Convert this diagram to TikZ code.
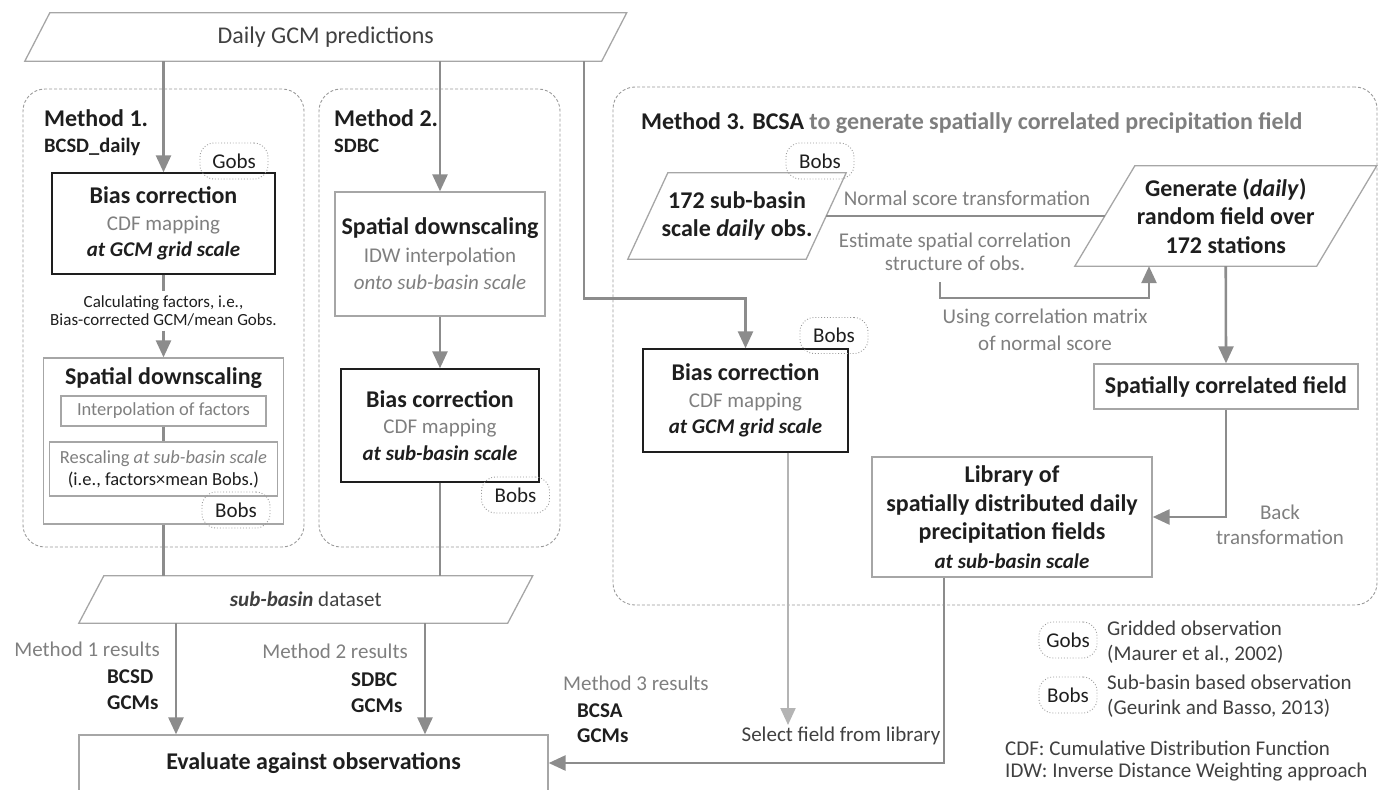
\documentclass[tikz,border=0pt]{standalone}
\usepackage{fontspec}
\setmainfont{Carlito}
\usetikzlibrary{arrows.meta,calc,positioning}

\definecolor{linegray}{HTML}{8C8C8C}
\definecolor{lightline}{HTML}{B4B4B4}
\definecolor{boxgray}{HTML}{A6A6A6}
\definecolor{dashgray}{HTML}{9A9A9A}
\definecolor{txtgray}{HTML}{7F7F7F}
\definecolor{txtmid}{HTML}{404040}
\definecolor{txtdark}{HTML}{1E1E1E}

\newcommand{\fhead}{\fontsize{24}{28.5}\selectfont\bfseries}
\newcommand{\fbody}{\fontsize{21}{26.5}\selectfont}
\newcommand{\fsmall}{\fontsize{18.5}{22}\selectfont}
\newcommand{\ftiny}{\fontsize{17}{18.5}\selectfont}
% outline of a slanted box round node #1, half slant #2
\newcommand{\slantbox}[2]{%
  \draw[draw=boxgray, line width=1.3pt] ($(#1.south west)+(-#2,0)$) -- ($(#1.north west)+(#2,0)$)
    -- ($(#1.north east)+(#2,0)$) -- ($(#1.south east)+(-#2,0)$) -- cycle;}

\begin{document}
\begin{tikzpicture}[x=1pt, y=-1pt, >={Triangle[length=17pt,width=15pt]},
    every node/.append style={text=txtdark},
    conn/.style={draw=linegray, line width=2.6pt},
    lconn/.style={draw=lightline, line width=2.2pt},
    kbox/.style={draw=txtdark, line width=1.4pt, inner sep=0pt, align=center, font=\fbody},
    gbox/.style={draw=boxgray, line width=1.3pt, inner sep=0pt, align=center, font=\fbody},
    pbox/.style={inner sep=0pt, align=center},
    obs/.style={draw=dashgray, dotted, line width=0.9pt, rounded corners=14pt, minimum width=68pt,
      minimum height=36pt, inner sep=0pt, font=\fbody},
    frame/.style={draw=dashgray, dash pattern=on 3pt off 2pt, line width=0.9pt, rounded corners=22pt},
    lbl/.style={font=\fbody, text=txtgray, align=center},
    tag/.style={inner sep=0pt, align=left}]
\useasboundingbox (0,0) rectangle (1380,789);

% method frames
\node[frame, minimum width=281pt, minimum height=458pt] (m1) at (163.5,318) {};
\node[frame, minimum width=241pt, minimum height=458pt] (m2) at (439.5,318) {};
\node[frame, minimum width=764pt, minimum height=518pt] (m3) at (995,346) {};

% input
\node[pbox, minimum width=576.5pt, minimum height=48pt, font=\fontsize{24}{28}\selectfont, text=txtmid] (gcm) at (325.75,37) {Daily GCM predictions};
\slantbox{gcm}{12.5}

% method 1
\node[tag, anchor=west, font=\fhead] (t1) at (44,118) {Method 1.};
\node[tag, anchor=west, font=\fontsize{20.5}{24}\selectfont\bfseries] (s1) at (44,147) {BCSD\_daily};
\node[kbox, minimum width=223pt, minimum height=101pt] (bc1) at (163.5,223.5) {{\fhead Bias correction}\\\textcolor{txtgray}{CDF mapping}\\\textbf{\textit{at GCM grid scale}}};
\node[obs] (g1) at (234,161) {Gobs};
\node[align=center, font=\ftiny, inner sep=4pt] (cf1) at (163.5,311) {Calculating factors, i.e.,\\Bias-corrected GCM/mean Gobs.};
\node[gbox, minimum width=240pt, minimum height=166pt] (sd1) at (163.5,441) {};
\node[font=\fhead] (sdt1) at (163.5,378) {Spatial downscaling};
\node[gbox, font=\fsmall, text=txtgray, minimum width=205pt, minimum height=30pt] (ip1) at (163.5,411) {Interpolation of factors};
\node[gbox, font=\fsmall, minimum width=228pt, minimum height=54pt] (rs1) at (163.5,469) {\textcolor{txtgray}{Rescaling \textit{at sub-basin scale}}\\(i.e., factors×mean Bobs.)};
\node[obs] (b1) at (236,510) {Bobs};

% method 2
\node[tag, anchor=west, font=\fhead] (t2) at (334,118) {Method 2.};
\node[tag, anchor=west, font=\fontsize{20.5}{24}\selectfont\bfseries] (s2) at (334,146) {SDBC};
\node[gbox, minimum width=210pt, minimum height=124pt, font=\fontsize{21}{27.5}\selectfont] (sd2) at (440,254) {{\fhead Spatial downscaling}\\\textcolor{txtgray}{IDW interpolation}\\\textcolor{txtgray}{\textit{onto sub-basin scale}}};
\node[kbox, minimum width=198pt, minimum height=113pt] (bc2) at (440,425.5) {{\fhead Bias correction}\\\textcolor{txtgray}{CDF mapping}\\\textbf{\textit{at sub-basin scale}}};
\node[obs] (b2) at (515.5,495) {Bobs};

% method 3
\node[tag, anchor=west, font=\fhead, text=txtgray] (t3) at (641,123) {\textcolor{txtdark}{Method 3. BCSA} to generate spatially correlated precipitation field};
\node[pbox, minimum width=178pt, minimum height=86pt, font=\fhead] (obs172) at (737,216) {172 sub-basin\\scale \textit{daily} obs.};
\slantbox{obs172}{20}
\node[obs] (b3) at (820,161) {Bobs};
\node[pbox, minimum width=241.5pt, minimum height=100pt, font=\fhead] (gen) at (1225.75,216) {Generate (\textit{daily})\\random field over\\172 stations};
\slantbox{gen}{30}
\node[lbl] (nst) at (967,198) {Normal score transformation};
\node[lbl, font=\fontsize{21}{22.5}\selectfont] (est) at (955,252) {Estimate spatial correlation\\structure of obs.};
\coordinate (estc) at (940,282);
\node[lbl] (ucm) at (1045,330) {Using correlation matrix\\of normal score};
\node[kbox, minimum width=205pt, minimum height=103pt] (bc3) at (745.5,400.5) {{\fhead Bias correction}\\\textcolor{txtgray}{CDF mapping}\\\textbf{\textit{at GCM grid scale}}};
\node[obs] (b4) at (834,335.5) {Bobs};
\node[gbox, minimum width=264pt, minimum height=45pt] (scf) at (1226,386.5) {\fhead Spatially correlated field};
\node[gbox, minimum width=280pt, minimum height=120pt, font=\fontsize{21}{28.5}\selectfont] (lib) at (1012,517) {{\fhead Library of}\\{\fhead spatially distributed daily}\\{\fhead precipitation fields}\\\textbf{\textit{at sub-basin scale}}};
\node[lbl, font=\fontsize{21}{25}\selectfont] (bt) at (1280,524.5) {Back\\transformation};

% results
\node[pbox, minimum width=428.5pt, minimum height=47pt, font=\fbody, text=txtmid] (sbd) at (305.75,599.5) {\textbf{\textit{sub-basin}} dataset};
\slantbox{sbd}{12.5}
\node[gbox, minimum width=469pt, minimum height=56pt] (ev) at (313.5,763) {\fhead Evaluate against observations};
\node[tag, anchor=east, font=\fbody, text=txtgray] (r1) at (160,649) {Method 1 results};
\node[tag, anchor=west, font=\fontsize{21}{26}\selectfont\bfseries] (r1b) at (107,690) {BCSD\\GCMs};
\node[tag, anchor=east, font=\fbody, text=txtgray] (r2) at (408,651) {Method 2 results};
\node[tag, anchor=west, font=\fontsize{21}{26}\selectfont\bfseries] (r2b) at (351,692.5) {SDBC\\GCMs};
\node[tag, anchor=west, font=\fbody, text=txtgray] (r3) at (563,683) {Method 3 results};
\node[tag, anchor=west, font=\fontsize{21}{25}\selectfont\bfseries] (r3b) at (577,723.5) {BCSA\\GCMs};
\node[font=\fbody, text=txtmid] (sel) at (841,736) {Select field from library};
\coordinate (selend) at (788,725);

% legend
\node[obs, minimum width=58pt] (lg) at (1068,640) {Gobs};
\node[obs, minimum width=58pt] (lb) at (1068,695) {Bobs};
\node[tag, anchor=west, font=\fontsize{21}{25}\selectfont, text=txtmid] (lgt) at (1107,642) {Gridded observation\\(Maurer et al., 2002)};
\node[tag, anchor=west, font=\fontsize{21}{25}\selectfont, text=txtmid] (lbt) at (1107,696) {Sub-basin based observation\\(Geurink and Basso, 2013)};
\node[tag, anchor=west, font=\fontsize{21}{22}\selectfont, text=txtmid] (abbr) at (1005,761) {CDF: Cumulative Distribution Function\\IDW: Inverse Distance Weighting approach};

% connectors
\draw[conn,->] (bc1.north |- gcm.south) -- (bc1.north);
\draw[conn,->] (sd2.north |- gcm.south) -- (sd2.north);
\draw[conn,->] ([xshift=258.25pt]gcm.south) -- ++(0,237) -| (bc3.north);
\draw[conn] (bc1) -- (cf1);
\draw[conn,->] (cf1) -- (sd1);
\draw[conn] (ip1) -- (rs1);
\draw[conn] (sd1.south) -- (sd1.south |- sbd.north);
\draw[conn,->] (sd2) -- (bc2);
\draw[conn] (bc2.south) -- (bc2.south |- sbd.north);
\draw[conn,->] ([xshift=-129.75pt]sbd.south) -- ([xshift=-129.75pt]sbd.south |- ev.north);
\draw[conn,->] ([xshift=119.25pt]sbd.south) -- ([xshift=119.25pt]sbd.south |- ev.north);
\draw[conn] (obs172.east) -- (gen.west);
\draw[conn,->] (estc) -- ++(0,16) -| ([xshift=-76.75pt]gen.south);
\draw[conn,->] (gen.south) -- (scf.north);
\draw[conn,->] (scf.south) |- (lib.east);
\draw[lconn,->] ([xshift=42.5pt]bc3.south) -- (selend);
\draw[conn,->] ([xshift=-68pt]lib.south) |- (ev.east);
\end{tikzpicture}
\end{document}
